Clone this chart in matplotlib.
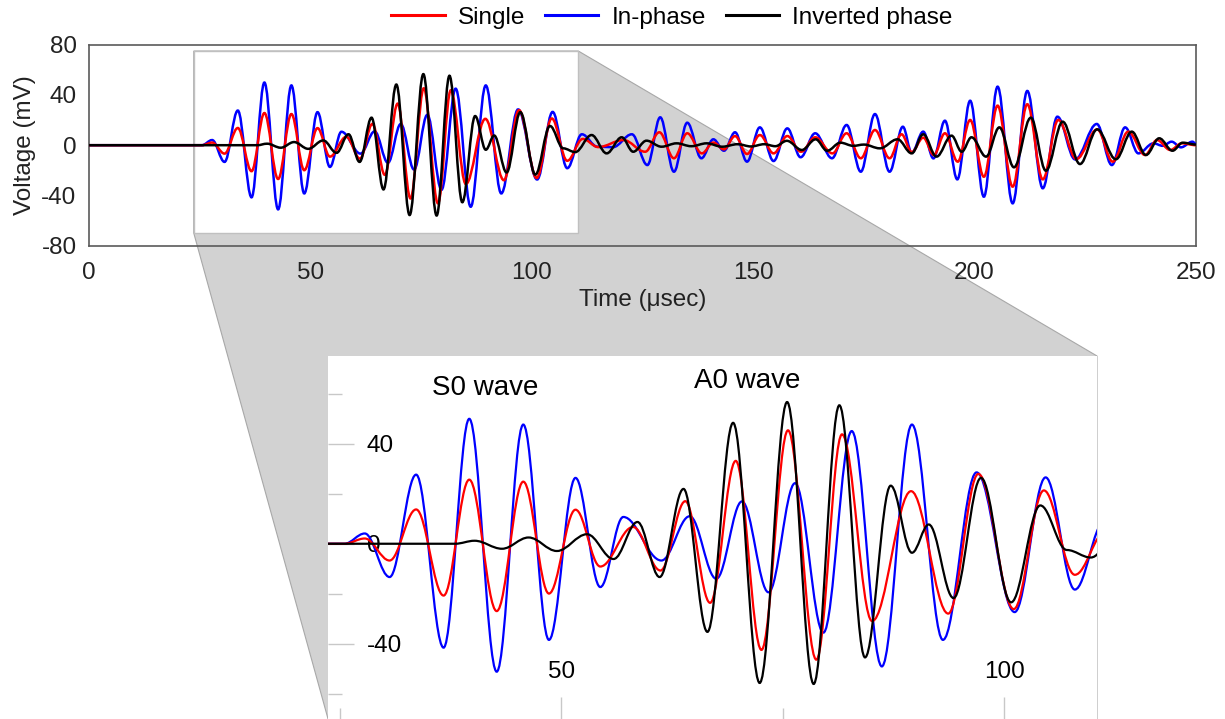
import matplotlib
matplotlib.use("Agg")
import matplotlib.pyplot as plt
from matplotlib.path import Path
from matplotlib.patches import PathPatch, Rectangle, Polygon
from matplotlib.lines import Line2D

plt.rcParams['font.family'] = ['Liberation Sans', 'DejaVu Sans']
plt.rcParams['axes.unicode_minus'] = False

# === Waveform extrema (time in usec, voltage in mV) ===
inphase_t = [0, 25.5, 27.8, 30.6, 33.6, 36.7, 39.6, 42.7, 45.7, 48.6, 51.6, 54.4, 57.0, 61.3,
             64.5, 67.5, 70.4, 73.4, 76.4, 79.6, 82.8, 86.2, 89.6, 93.1, 96.9, 101.2, 104.7,
             108.0, 111.3, 114.8, 118.3, 122.6, 126.1, 129.0, 132.1, 135.1, 138.3, 141.0, 143.4,
             145.9, 148.6, 151.5, 154.6, 157.7, 160.7, 164.0, 167.8, 171.1, 174.3, 177.5, 180.8,
             183.8, 185.8, 188.4, 190.7, 193.3, 196.1, 199.0, 202.1, 205.2, 208.6, 211.9, 215.4,
             218.7, 222.7, 227.6, 231.0, 234.0, 237.0, 240.4, 242.5, 244.5, 246.6, 249.2, 250]
inphase_v = [0, 0, 4.1, -13.3, 27.6, -41.5, 49.9, -51.1, 47.6, -38.4, 26.3, -17.3, 10.7, -6.7,
             11.0, -14.0, 16.9, -19.4, 24.2, -35.5, 45.0, -49.0, 47.6, -38.4, 28.5, -27.3, 26.5,
             -18.3, 8.7, -1.2, -1.6, 8.7, -15.8, 22.2, -21.1, 17.9, -10.4, 4.7, -4.4,
             10.3, -13.1, 14.2, -12.6, 13.4, -9.6, 9.5, -10.4, 16.1, -21.1, 24.8, -21.1,
             14.7, -6.0, 10.8, -10.5, 19.5, -27.2, 35.4, -41.0, 46.6, -46.3, 43.2, -34.3,
             22.7, -11.3, 16.9, -15.8, 14.2, -6.5, 1.5, -0.5, 2.8, -1.7, 2.8, 1.0]

single_t = [0, 25.5, 27.8, 30.6, 33.6, 36.7, 39.6, 42.7, 45.7, 48.6, 51.6, 54.4, 58.1, 61.2,
            64.0, 66.8, 69.7, 72.6, 75.6, 78.8, 81.7, 85.1, 89.5, 93.7, 97.1, 101.1, 104.5,
            108.0, 111.5, 115.0, 120.7, 125.6, 128.8, 132.1, 135.1, 138.4, 141.0, 143.4,
            145.9, 148.6, 151.5, 154.6, 157.7, 160.8, 164.0, 167.9, 171.1, 174.3, 177.5, 180.8,
            183.5, 185.8, 188.4, 190.8, 193.3, 196.2, 199.0, 202.1, 205.2, 208.6, 211.9, 215.4,
            218.9, 223.0, 227.7, 231.2, 234.7, 238.5, 241.2, 244.2, 246.8, 250]
single_v = [0, 0, 2.1, -6.7, 13.7, -20.7, 25.6, -26.9, 24.8, -19.9, 13.6, -9.1, 6.7, -10.7,
            17.0, -23.6, 33.1, -42.4, 45.3, -46.3, 43.7, -30.9, 21.0, -27.9, 27.9, -26.1, 21.3,
            -12.4, 5.0, -1.5, 4.1, -5.2, 10.3, -10.4, 9.5, -6.5, 2.1, -3.3,
            7.3, -7.0, 8.1, -6.5, 7.3, -5.2, 6.3, -6.5, 9.5, -10.4, 12.1, -10.4,
            8.7, -5.5, 6.0, -7.8, 9.5, -13.1, 20.1, -25.1, 31.5, -33.0, 32.6, -27.2,
            20.1, -11.0, 12.6, -13.1, 10.8, -7.8, 4.1, -3.8, 1.5, 0.0]

inverted_t = [0, 38.0, 40.2, 43.3, 46.3, 49.5, 52.9, 55.9, 58.6, 61.1, 63.8, 66.5, 69.4, 72.4,
              75.5, 78.5, 81.4, 84.3, 87.2, 89.6, 91.5, 94.3, 97.4, 100.8, 104.1, 107.1, 109.8,
              113.5, 116.9, 120.3, 122.9, 125.9, 129.3, 132.7, 136.0, 139.5, 143.0, 146.5,
              149.5, 152.5, 155.0, 157.6, 161.0, 164.1, 166.7, 169.7, 172.6, 175.0, 178.6,
              182.6, 185.8, 188.4, 191.4, 194.8, 197.1, 199.3, 202.6, 205.6, 208.9, 212.7,
              216.1, 219.9, 223.8, 227.7, 231.9, 235.5, 238.7, 241.7, 244.7, 247.0, 250]
inverted_v = [0, 0, 1.2, -2.0, 2.5, -2.9, 3.8, -6.1, 8.7, -13.3, 21.9, -35.2, 48.3, -55.6,
              56.6, -56.0, 55.3, -45.4, 23.2, -3.6, 7.7, -21.7, 26.3, -23.4, 15.3, -2.5, -5.5,
              8.1, -6.5, 6.3, -5.2, 3.6, -1.2, 1.5, -0.8, 1.5, -1.2, 0.8,
              -1.0, 0.8, -0.8, 3.5, -3.8, 4.7, -4.4, 2.0, -0.5, 0.5, -2.5,
              4.7, -6.5, 8.7, -9.1, 7.6, -5.2, 6.3, -9.1, 14.2, -17.6, 21.9,
              -20.3, 18.7, -15.0, 12.6, -11.2, 10.8, -7.8, 5.5, -4.4, 2.0, 0.5]

series = [
    ("In-phase", inphase_t, inphase_v, "#0000ff"),
    ("Single", single_t, single_v, "#ff0000"),
    ("Inverted phase", inverted_t, inverted_v, "#000000"),
]
legend_order = ["Single", "In-phase", "Inverted phase"]

zoom_xlim = (23.65, 110.5)
zoom_ylim = (-70, 75)
wave_labels = [("S0 wave", 35.4, 62.4), ("A0 wave", 65.0, 65.0)]

# half-cosine between extrema drawn as cubic bezier (horizontal tangents)
C = 0.3634


def wave_path(t, v):
    verts = [(t[0], v[0])]
    codes = [Path.MOVETO]
    for i in range(len(t) - 1):
        d = t[i + 1] - t[i]
        verts += [(t[i] + C * d, v[i]), (t[i + 1] - C * d, v[i + 1]), (t[i + 1], v[i + 1])]
        codes += [Path.CURVE4] * 3
    return Path(verts, codes)


fig = plt.figure(figsize=(12.25, 7.19), dpi=100)
ax = fig.add_axes([0.0727, 0.6583, 0.9036, 0.2795])
ins = fig.add_axes([0.2678, 0.0, 0.6277, 0.5049])

# === Main axes ===
ax.set_facecolor("none")
ax.set_xlim(0, 250)
ax.set_ylim(-80, 80)
ax.set_xticks([0, 50, 100, 150, 200, 250])
ax.set_yticks([-80, -40, 0, 40, 80])
ax.tick_params(axis="both", length=0, labelsize=17.5, colors="#222222")
ax.tick_params(axis="x", pad=12)
ax.tick_params(axis="y", pad=9)
for sp in ax.spines.values():
    sp.set_color("#5a5a5a")
    sp.set_linewidth(1.2)
ax.set_xlabel("Time (μsec)", fontsize=17.5, color="#222222", labelpad=3)
ax.set_ylabel("Voltage (mV)", fontsize=17.5, color="#222222", labelpad=4)

ax.add_patch(Rectangle((zoom_xlim[0], zoom_ylim[0]), zoom_xlim[1] - zoom_xlim[0],
                       zoom_ylim[1] - zoom_ylim[0], facecolor="white",
                       edgecolor="#c0c0c0", lw=1.0, zorder=1))

for name, t, v, col in series:
    ax.add_patch(PathPatch(wave_path(t, v), fill=False, edgecolor=col, lw=1.8, zorder=3))

# === Inset ===
ins.set_facecolor("white")
ins.set_xlim(*zoom_xlim)
ins.set_ylim(*zoom_ylim)
for sp in ins.spines.values():
    sp.set_visible(False)
ins.set_xticks([50, 100])
ins.set_xticks([25, 75], minor=True)
ins.set_yticks([-40, 0, 40])
ins.set_yticks([-60, -20, 20, 60], minor=True)
ins.set_yticklabels(["-40", "0", "40"], ha="left")
ins.tick_params(axis="both", which="both", direction="in", color="#c8c8c8", width=1.0,
                labelsize=17.5, labelcolor="black")
ins.tick_params(axis="y", which="major", length=18.5, pad=-28)
ins.tick_params(axis="y", which="minor", length=10)
ins.tick_params(axis="x", which="major", length=16, pad=-42)
ins.tick_params(axis="x", which="minor", length=8)

for name, t, v, col in series:
    ins.add_patch(PathPatch(wave_path(t, v), fill=False, edgecolor=col, lw=1.6, zorder=3))

for txt, tx, ty in wave_labels:
    ins.text(tx, ty, txt, fontsize=20, ha="left", va="center", color="black")

# === Zoom connector (grey hull behind both) ===
to_fig = fig.transFigure.inverted()
r_tl = to_fig.transform(ax.transData.transform((zoom_xlim[0], zoom_ylim[1])))
r_tr = to_fig.transform(ax.transData.transform((zoom_xlim[1], zoom_ylim[1])))
r_bl = to_fig.transform(ax.transData.transform((zoom_xlim[0], zoom_ylim[0])))
ib = ins.get_position()
hull = [r_tl, r_tr, (ib.x1, ib.y1), (ib.x1, ib.y0), (ib.x0, ib.y0), r_bl]
fig.add_artist(Polygon(hull, closed=True, transform=fig.transFigure, facecolor="#d2d2d2",
                       edgecolor="#a8a8a8", lw=0.8, zorder=-1))

# === Legend ===
colors = {name: col for name, t, v, col in series}
handles = [Line2D([], [], color=colors[n], lw=2.2) for n in legend_order]
fig.legend(handles, legend_order, loc="center", bbox_to_anchor=(0.5486, 0.975), ncol=3,
           frameon=False, fontsize=17.5, handlelength=2.2, handletextpad=0.55,
           columnspacing=0.8, borderaxespad=0)

fig.savefig("out.png", dpi=100)
